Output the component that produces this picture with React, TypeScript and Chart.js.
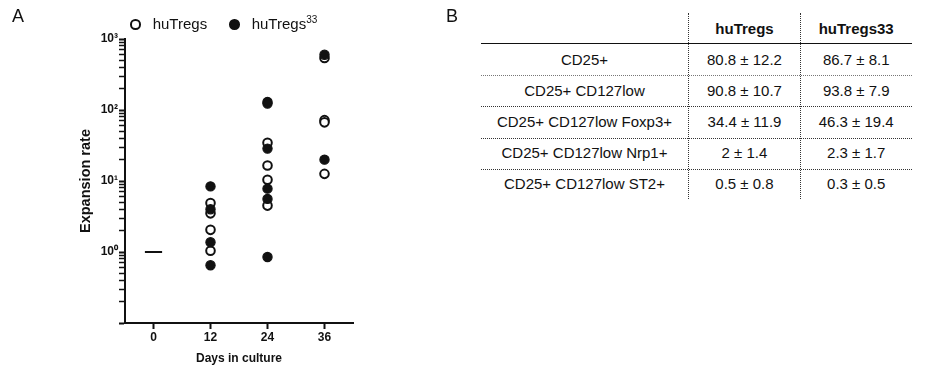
import React, { useEffect, useRef } from 'react';
import { Chart, registerables } from 'chart.js';

Chart.register(...registerables);

// ---- Panel A data ----
const xTickValues = [0, 12, 24, 36];
const yTickLabels: Record<string, string> = { '1': '10⁰', '10': '10¹', '100': '10²', '1000': '10³' };
const yDecades = [0.1, 1, 10, 100];
const yMantissas = [1, 2, 3, 4, 5, 6, 7, 8, 9];
const yMax = 1000;
const baselineDays = [0];
const baselineValues = [1];
const huTregsDays = [12, 12, 12, 12, 24, 24, 24, 24, 36, 36, 36, 36];
const huTregsValues = [4.9, 3.5, 2.05, 1.04, 34.5, 16.5, 10.4, 4.5, 540, 72, 67, 12.6];
const huTregs33Days = [12, 12, 12, 12, 24, 24, 24, 24, 24, 24, 36, 36];
const huTregs33Values = [8.4, 4.0, 1.37, 0.65, 130, 123, 28.6, 7.8, 5.6, 0.85, 600, 20];

// ---- Panel B data ----
const tableColumns = ['huTregs', 'huTregs33'];
const tableRows = [
  'CD25+',
  'CD25+ CD127low',
  'CD25+ CD127low Foxp3+',
  'CD25+ CD127low Nrp1+',
  'CD25+ CD127low ST2+',
];
const tableHuTregs = ['80.8 ± 12.2', '90.8 ± 10.7', '34.4 ± 11.9', '2 ± 1.4', '0.5 ± 0.8'];
const tableHuTregs33 = ['86.7 ± 8.1', '93.8 ± 7.9', '46.3 ± 19.4', '2.3 ± 1.7', '0.3 ± 0.5'];

const FONT = "'Liberation Sans', Arial, sans-serif";
const INK = '#111111';

function toPoints(xs: number[], ys: number[]) {
  return xs.map((x, i) => ({ x, y: ys[i] }));
}

function isDecade(v: number) {
  const l = Math.log10(v);
  return Math.abs(l - Math.round(l)) < 1e-6;
}

function ScatterPanel() {
  const ref = useRef<HTMLCanvasElement | null>(null);
  useEffect(() => {
    if (!ref.current) return;
    const chart = new Chart(ref.current, {
      type: 'scatter',
      data: {
        datasets: [
          {
            label: 'huTregs33',
            data: toPoints(huTregs33Days, huTregs33Values),
            pointStyle: 'circle',
            pointRadius: 4.6,
            pointBorderWidth: 1.2,
            backgroundColor: INK,
            borderColor: INK,
          },
          {
            label: 'huTregs',
            data: toPoints(huTregsDays, huTregsValues),
            pointStyle: 'circle',
            pointRadius: 4.3,
            pointBorderWidth: 2,
            backgroundColor: '#ffffff',
            borderColor: INK,
          },
          {
            label: 'Day 0',
            data: toPoints(baselineDays, baselineValues),
            pointStyle: 'line',
            pointRadius: 8.6,
            pointBorderWidth: 2,
            backgroundColor: INK,
            borderColor: INK,
          },
        ],
      },
      options: {
        animation: false,
        responsive: false,
        devicePixelRatio: 1,
        layout: { padding: { left: 0, top: 39, right: 47, bottom: 0 } },
        plugins: { legend: { display: false }, tooltip: { enabled: false } },
        scales: {
          x: {
            type: 'linear',
            min: -6,
            max: 42,
            afterBuildTicks: (scale: any) => {
              scale.ticks = xTickValues.map((v) => ({ value: v }));
            },
            afterFit: (scale: any) => {
              scale.height = 56;
            },
            grid: {
              display: true,
              drawOnChartArea: false,
              drawTicks: true,
              tickLength: 6,
              tickWidth: 2,
              tickColor: INK,
            },
            border: { display: true, color: INK, width: 2 },
            ticks: {
              color: INK,
              padding: 1,
              font: { family: FONT, size: 12, weight: 'bold' },
              callback: (v: any) => String(v),
            },
            title: {
              display: true,
              text: 'Days in culture',
              color: INK,
              font: { family: FONT, size: 12, weight: 'bold' },
              padding: { top: 0, bottom: 13 },
            },
          },
          y: {
            type: 'logarithmic',
            min: 0.1,
            max: yMax,
            afterBuildTicks: (scale: any) => {
              const t: { value: number }[] = [];
              yDecades.forEach((d) => yMantissas.forEach((m) => t.push({ value: d * m })));
              t.push({ value: yMax });
              scale.ticks = t;
            },
            afterFit: (scale: any) => {
              scale.width = 125;
            },
            grid: {
              display: true,
              drawOnChartArea: false,
              drawTicks: true,
              tickLength: 6,
              tickWidth: (ctx: any) => (ctx.tick && isDecade(ctx.tick.value) ? 2 : 1.5),
              tickColor: INK,
            },
            border: { display: true, color: INK, width: 2 },
            ticks: {
              autoSkip: false,
              color: INK,
              padding: 1,
              font: { family: FONT, size: 12, weight: 'bold' },
              callback: (v: any) => {
                const key = String(Math.round(Number(v) * 1000) / 1000);
                return yTickLabels[key] ?? '';
              },
            },
            title: {
              display: true,
              text: 'Expansion rate',
              color: INK,
              font: { family: FONT, size: 14.5, weight: 'bold' },
              padding: { top: 77, bottom: 0 },
            },
          },
        },
      } as any,
    });
    return () => chart.destroy();
  }, []);
  return (
    <canvas
      ref={ref}
      width={400}
      height={379}
      style={{ position: 'absolute', left: 0, top: 0, width: 400, height: 379 }}
    />
  );
}

const textBase: React.CSSProperties = {
  position: 'absolute',
  fontFamily: FONT,
  color: INK,
  whiteSpace: 'nowrap',
};

function Legend() {
  const circle = (left: number, filled: boolean): React.CSSProperties => ({
    position: 'absolute',
    left,
    top: 19.3,
    width: 10.5,
    height: 10.5,
    boxSizing: 'border-box',
    borderRadius: '50%',
    border: `2px solid ${INK}`,
    background: filled ? INK : '#fff',
  });
  return (
    <>
      <div style={circle(130, false)} />
      <div style={{ ...textBase, left: 152.7, top: 15.3, fontSize: 15, lineHeight: '17px' }}>{tableColumns[0]}</div>
      <div style={circle(229, true)} />
      <div style={{ ...textBase, left: 251.7, top: 15.3, fontSize: 15, lineHeight: '17px' }}>
        huTregs<sup style={{ fontSize: 10, verticalAlign: 'super', lineHeight: 0 }}>33</sup>
      </div>
    </>
  );
}

function Table() {
  const colEdges = [480.7, 688.3, 800.7, 911.7];
  const rowCenter = (i: number) => 59.5 + 31.2 * i;
  const cells: React.ReactNode[] = [];
  const cell = (key: string, text: string, col: number, cy: number, bold = false) => (
    <div
      key={key}
      style={{
        ...textBase,
        left: colEdges[col],
        width: colEdges[col + 1] - colEdges[col],
        top: cy - 10,
        height: 20,
        lineHeight: '20px',
        textAlign: 'center',
        fontSize: 15,
        fontWeight: bold ? 'bold' : 'normal',
      }}
    >
      {text}
    </div>
  );
  cells.push(cell('h1', tableColumns[0], 1, 28.5, true));
  cells.push(cell('h2', tableColumns[1], 2, 28.5, true));
  tableRows.forEach((r, i) => {
    const cy = rowCenter(i);
    cells.push(cell(`r${i}`, r, 0, cy));
    cells.push(cell(`a${i}`, tableHuTregs[i], 1, cy));
    cells.push(cell(`b${i}`, tableHuTregs33[i], 2, cy));
    if (i < tableRows.length - 1) {
      cells.push(
        <div
          key={`s${i}`}
          style={{
            position: 'absolute',
            left: colEdges[0],
            width: colEdges[3] - colEdges[0],
            top: Math.round((rowCenter(i) + rowCenter(i + 1)) / 2),
            height: 0,
            borderTop: `1px dotted ${i === 0 ? '#777' : '#333'}`,
          }}
        />
      );
    }
  });
  return (
    <>
      {cells}
      <div
        style={{
          position: 'absolute',
          left: colEdges[0],
          width: colEdges[3] - colEdges[0],
          top: 43,
          height: 0,
          borderTop: `1px solid ${INK}`,
        }}
      />
      {[688, 800].map((x) => (
        <div
          key={`v${x}`}
          style={{ position: 'absolute', left: x, top: 13, height: 186, width: 0, borderLeft: '1px dotted #333' }}
        />
      ))}
    </>
  );
}

export default function App() {
  return (
    <div style={{ position: 'absolute', left: 0, top: 0, width: 925, height: 379, background: '#fff', overflow: 'hidden' }}>
      <ScatterPanel />
      <div style={{ ...textBase, left: 12, top: 6, fontSize: 18, lineHeight: '20px' }}>A</div>
      <div style={{ ...textBase, left: 446, top: 6, fontSize: 18, lineHeight: '20px' }}>B</div>
      <Legend />
      <Table />
    </div>
  );
}
